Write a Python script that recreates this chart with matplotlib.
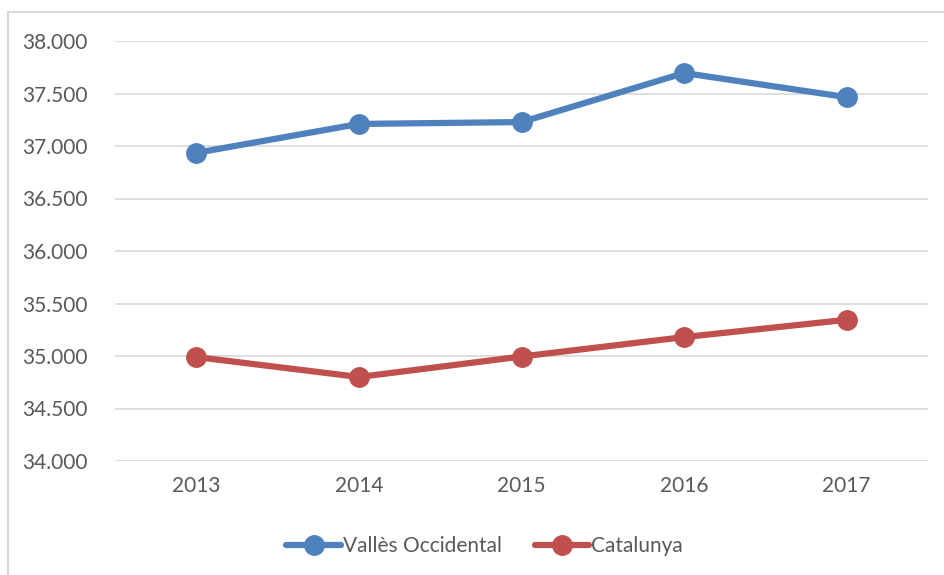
import matplotlib
matplotlib.use("Agg")
import matplotlib.pyplot as plt
from matplotlib.ticker import FuncFormatter
from matplotlib.patches import Rectangle
from matplotlib.lines import Line2D

years = ["2013", "2014", "2015", "2016", "2017"]
valles = [36935, 37210, 37228, 37695, 37465]
catalunya = [34990, 34800, 34995, 35180, 35345]
yticks = [34000, 34500, 35000, 35500, 36000, 36500, 37000, 37500, 38000]

blue = "#4F81BD"
red = "#C0504D"
txt = "#595959"
grid = "#D9D9D9"

plt.rcParams['font.family'] = ['Lato', 'DejaVu Sans']

fig = plt.figure(figsize=(9.45, 5.75), dpi=100)
ax = fig.add_axes([115/945, 1-461/575, (928-115)/945, (461-41)/575])

# chart border (partially visible)
fig.add_artist(Rectangle((8/945, -0.1), 1.2, 1 - 12/575 + 0.1, transform=fig.transFigure,
                         fill=False, edgecolor=grid, linewidth=1.5))

x = list(range(len(years)))
ax.plot(x, valles, color=blue, lw=4.5, marker='o', ms=14, solid_capstyle='round', label="Vallès Occidental", zorder=3)
ax.plot(x, catalunya, color=red, lw=4.5, marker='o', ms=14, solid_capstyle='round', label="Catalunya", zorder=3)

ax.set_xlim(-0.5, len(years) - 0.5)
ax.set_ylim(34000, 38000)
ax.set_yticks(yticks)
ax.yaxis.set_major_formatter(FuncFormatter(lambda v, p: f"{int(v):,}".replace(",", ".")))
ax.set_xticks(x)
ax.set_xticklabels(years)
ax.grid(axis='y', color=grid, lw=1.2)
ax.set_axisbelow(True)
for s in ax.spines.values():
    s.set_visible(False)
ax.tick_params(length=0, labelsize=15, colors=txt)
ax.tick_params(axis='y', pad=20)
ax.tick_params(axis='x', pad=11)

handles = [Line2D([], [], color=blue, lw=4.5, marker='o', ms=14, solid_capstyle='round'),
           Line2D([], [], color=red, lw=4.5, marker='o', ms=14, solid_capstyle='round')]
fig.legend(handles, ["Vallès Occidental", "Catalunya"], loc='center', bbox_to_anchor=(0.513, 1-546/575),
           ncol=2, frameon=False, fontsize=15, labelcolor=txt, handlelength=2.6,
           handletextpad=0.1, columnspacing=1.6)

fig.savefig("out.png", dpi=100)
